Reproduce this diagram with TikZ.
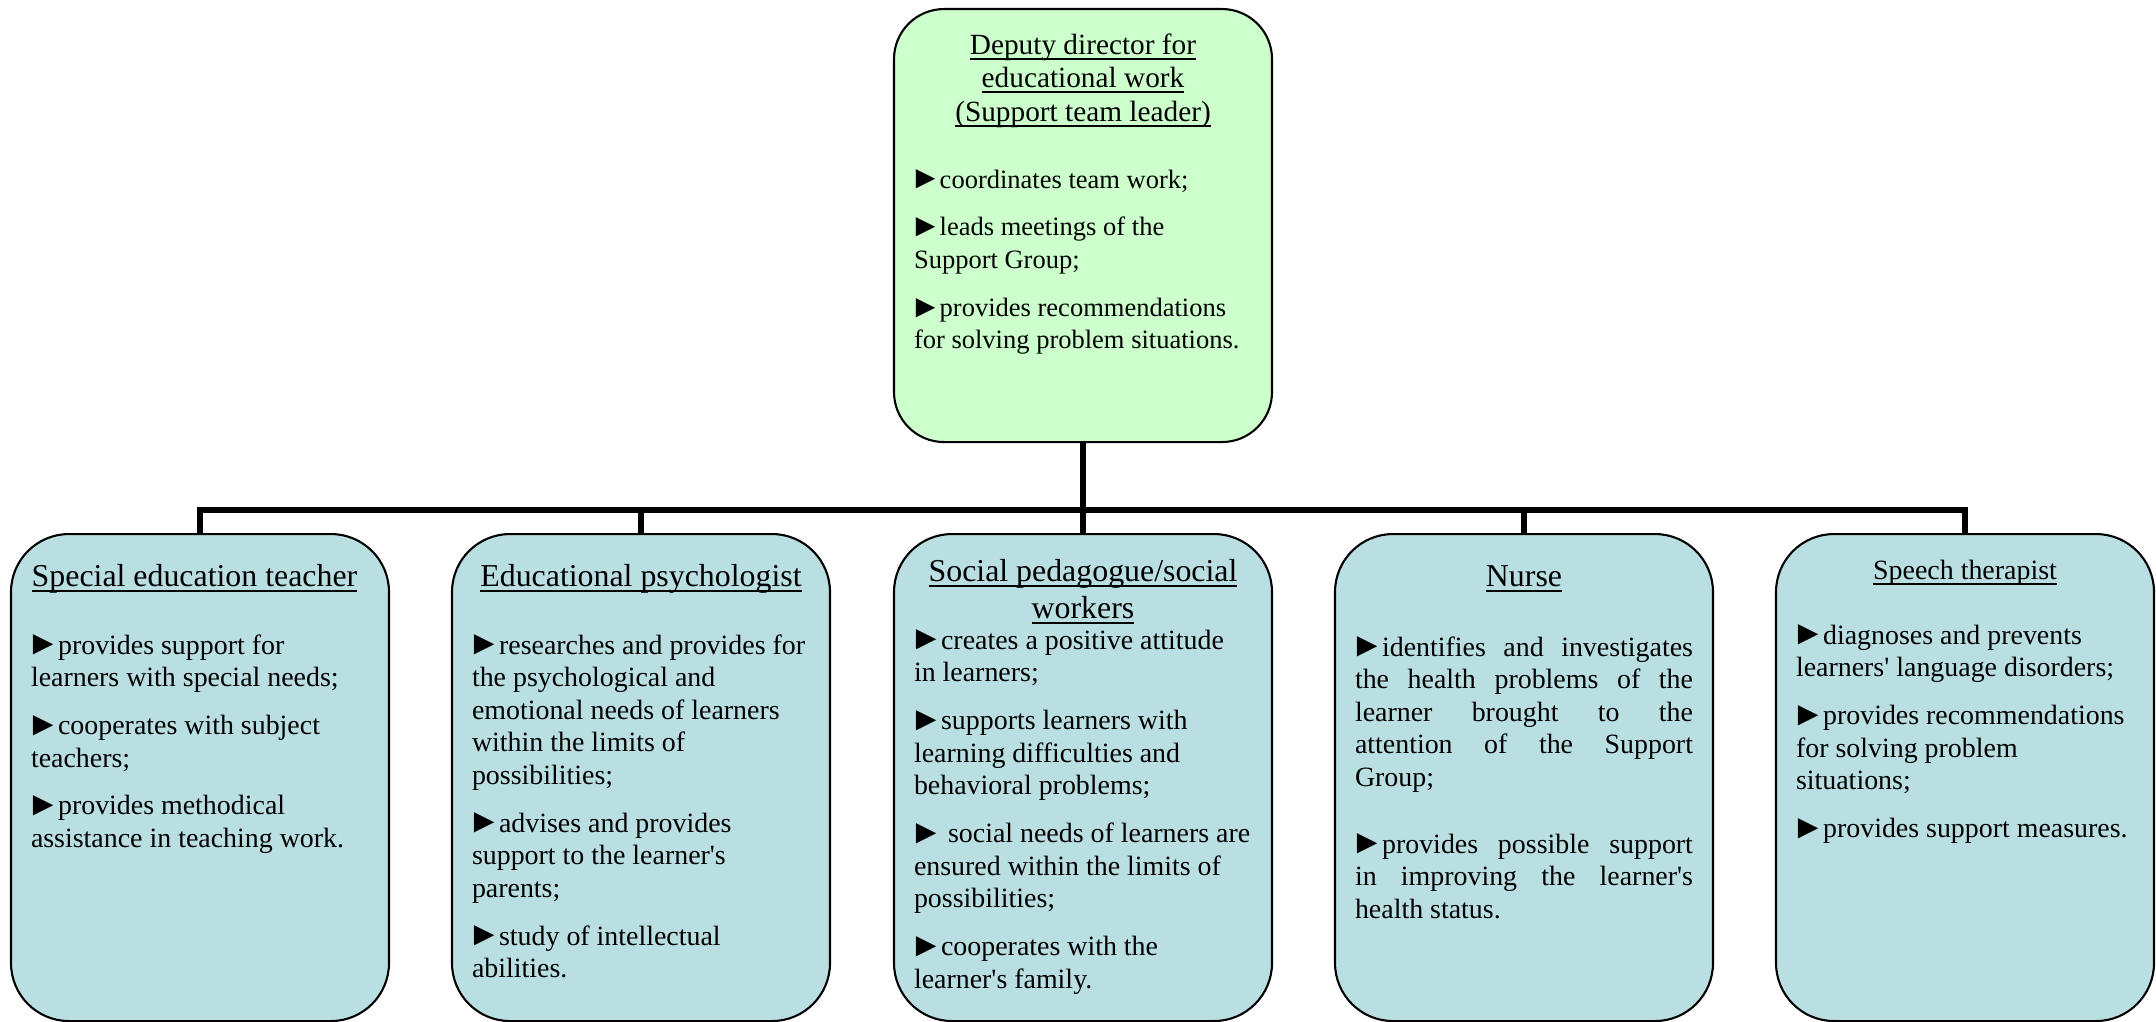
\documentclass[tikz,border=0pt]{standalone}
\usepackage{fontspec}
\usepackage{graphicx}
\setmainfont{Liberation Serif}

\newdimen\px
\px=0.43pt

\definecolor{capoverde}{HTML}{CCFFCC}
\definecolor{ruoloblu}{RGB}{185,223,227}

% testo sottolineato
\newcommand{\sott}[1]{\leavevmode\setbox0=\hbox{#1}\rlap{\rule[-2.4pt]{\wd0}{0.7pt}}\box0}
% intestazione: {base} {corpo} {interlinea} {testo}
\newcommand{\testa}[4]{{\centering\fontsize{#2}{#3}\selectfont\rule{0pt}{#1\px}#4\par}}
% elenco sotto l'intestazione
\newcommand{\corpo}[2][12]{\fontsize{#1}{14}\selectfont\setlength{\parskip}{6.6pt}\vspace{\dimexpr#2\px-20.6pt\relax}}
\newcommand{\scheda}[2]{\parbox[t][#1\px][t]{338\px}{#2}}
\newcommand{\ap}{\textquotesingle}
\newcommand{\pall}{\makebox[0.97em][l]{\hspace*{-0.17em}\raisebox{-0.3pt}{\scalebox{1.22}{►}}}}

\begin{document}
\begin{tikzpicture}[x=\px,y=-\px,
  capo/.style={draw,line width=0.9pt,rounded corners=50\px,fill=capoverde,
    anchor=north,inner xsep=20\px,inner ysep=0pt},
  ruolo/.style={capo,rounded corners=58\px,fill=ruoloblu},
  linea/.style={line width=2.8pt}]

\useasboundingbox (0,0) rectangle (2156,1022);

% Vicedirettore
\node[capo] (capo) at (1083,8) {\scheda{433}{%
  \testa{45}{12.6}{14.4pt}{\sott{Deputy director for}\\\sott{educational work}\\\sott{(Support team leader)}}%
  \corpo[11.4]{67}\raggedright
  \pall coordinates team work;\par
  \pall leads meetings of the\\Support Group;\par
  \pall provides recommendations\\for solving problem situations.\par}};

% Ruoli del gruppo di sostegno
\node[ruolo] (spec) at (200,533) {\scheda{487}{%
  \testa{52}{13.7}{15.9pt}{\sott{Special education teacher}\hspace*{11\px}}%
  \corpo{68}\raggedright
  \pall provides support for\\learners with special needs;\par
  \pall cooperates with subject\\teachers;\par
  \pall provides methodical\\assistance in teaching work.\par}};

\node[ruolo] (psych) at (641,533) {\scheda{487}{%
  \testa{52}{13.7}{15.9pt}{\sott{Educational psychologist}}%
  \corpo{68}\raggedright
  \pall researches and provides for\\the psychological and\\emotional needs of learners\\within the limits of\\possibilities;\par
  \pall advises and provides\\support to the learner\ap s\\parents;\par
  \pall study of intellectual\\abilities.\par}};

\node[ruolo] (social) at (1083,533) {\scheda{487}{%
  \testa{47}{13.7}{15.9pt}{\sott{Social pedagogue/social}\\\sott{workers}}%
  \corpo{31}\raggedright
  \pall creates a positive attitude\\in learners;\par
  \pall supports learners with\\learning difficulties and\\behavioral problems;\par
  \pall\ social needs of learners are\\ensured within the limits of\\possibilities;\par
  \pall cooperates with the\\learner\ap s family.\par}};

\node[ruolo] (nurse) at (1524,533) {\scheda{487}{%
  \testa{52}{13.7}{15.9pt}{\sott{Nurse}}%
  \corpo{70}\tolerance=10000 \hbadness=10000
  \pall identifies and investigates\linebreak the health problems of the\linebreak
  learner brought to the\linebreak attention of the Support\linebreak Group;\par
  \vspace{19\px}
  \pall provides possible support\linebreak in improving the learner\ap s\linebreak health status.\par}};

\node[ruolo] (speech) at (1965,533) {\scheda{487}{%
  \testa{45}{12}{14pt}{\sott{Speech therapist}}%
  \corpo{65}\raggedright
  \pall diagnoses and prevents\\learners\ap\ language disorders;\par
  \pall provides recommendations\\for solving problem\\situations;\par
  \pall provides support measures.\par}};

% Collegamenti
\coordinate (hub) at (1083,510);
\draw[linea] (capo.south) -- (hub);
\foreach \r in {spec,psych,social,nurse,speech}
  \draw[linea] (hub) -| (\r.north);

\end{tikzpicture}
\end{document}
